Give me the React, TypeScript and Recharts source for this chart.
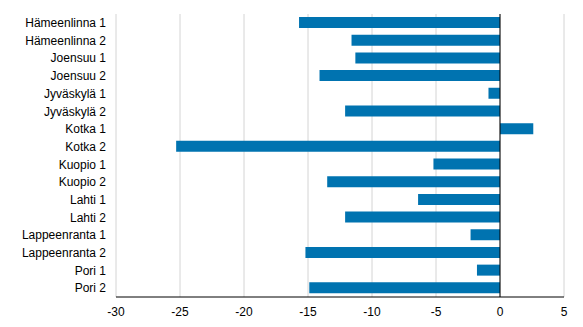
import { Bar, BarChart, CartesianGrid, ReferenceLine, XAxis, YAxis } from 'recharts'

const cities = [
  'Hämeenlinna 1',
  'Hämeenlinna 2',
  'Joensuu 1',
  'Joensuu 2',
  'Jyväskylä 1',
  'Jyväskylä 2',
  'Kotka 1',
  'Kotka 2',
  'Kuopio 1',
  'Kuopio 2',
  'Lahti 1',
  'Lahti 2',
  'Lappeenranta 1',
  'Lappeenranta 2',
  'Pori 1',
  'Pori 2',
]

const change = [
  -15.7, -11.6, -11.3, -14.1, -0.9, -12.1, 2.6, -25.3, -5.2, -13.5, -6.4, -12.1, -2.3, -15.2, -1.8, -14.9,
]

const xTicks = [-30, -25, -20, -15, -10, -5, 0, 5]

const data = cities.map((name, i) => ({ name, value: change[i] }))

const font = { fontSize: 12, fill: '#000', fontFamily: 'Arial, "Liberation Sans", sans-serif' }

export default function App() {
  return (
    <div style={{ position: 'fixed', left: 0, top: 0, background: '#fff' }}>
      <BarChart
        width={583}
        height={327}
        data={data}
        layout="vertical"
        margin={{ top: 14, right: 19, bottom: 0, left: 0 }}
      >
        <CartesianGrid horizontal={false} stroke="#d4d4d4" />
        <XAxis
          type="number"
          domain={[-30, 5]}
          ticks={xTicks}
          height={30}
          tickLine={false}
          axisLine={{ stroke: '#000' }}
          tickMargin={4}
          tick={font}
        />
        <YAxis
          type="category"
          dataKey="name"
          width={116}
          interval={0}
          tickLine={false}
          axisLine={false}
          tickMargin={4}
          tick={font}
        />
        <Bar dataKey="value" fill="#0073B0" barSize={11} isAnimationActive={false} />
        <ReferenceLine x={0} stroke="#000" />
      </BarChart>
    </div>
  )
}
